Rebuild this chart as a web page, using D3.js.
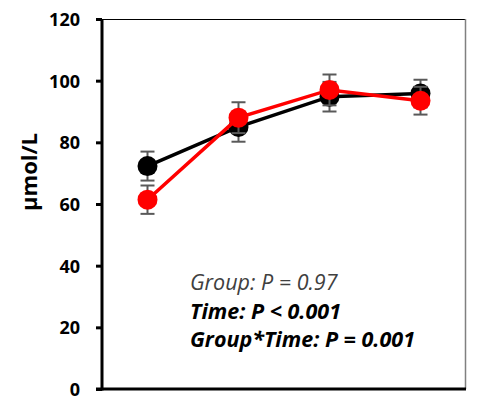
<!DOCTYPE html>
<html>
<head>
<meta charset="utf-8">
<script src="https://cdn.jsdelivr.net/npm/d3@7"></script>
<style>
  body { margin: 0; background: #fff; }
  svg { display: block; }
</style>
</head>
<body>
<div id="chart"></div>
<script>
const WIDTH = 480;
const HEIGHT = 397;

// data
const timePoints = ['T1', 'T2', 'T3', 'T4'];
const blackMean = [72.3, 85, 94.8, 95.8];
const blackErr = [4.7, 4.8, 4.8, 4.5];
const redMean = [61.4, 88, 97, 93.5];
const redErr = [4.6, 5, 5, 4.5];
const yTicks = [0, 20, 40, 60, 80, 100, 120];
const statLines = [
    { text: 'Group: P = 0.97', bold: false },
    { text: 'Time: P < 0.001', bold: true },
    { text: 'Group*Time: P = 0.001', bold: true }
];

const MARGIN = { TOP: 19, LEFT: 102, RIGHT: 14 };
const widthPlot = WIDTH - MARGIN.LEFT - MARGIN.RIGHT;

const SVG = d3.select('#chart')
    .append('svg')
    .attr('width', WIDTH)
    .attr('height', HEIGHT);

const container = SVG.append('g')
    .attr('transform', `translate(${MARGIN.LEFT}, ${MARGIN.TOP})`);

const x = d3.scaleBand()
    .domain(timePoints)
    .range([0, widthPlot]);

const y = d3.scaleLinear()
    .domain([0, 120])
    .range([370, 0]);

// frame: thin top and right borders
container.append('line')
    .attr('x1', 0).attr('x2', widthPlot)
    .attr('y1', 0.5).attr('y2', 0.5)
    .attr('stroke', '#000').attr('stroke-width', 1);
container.append('line')
    .attr('x1', widthPlot - 0.5).attr('x2', widthPlot - 0.5)
    .attr('y1', 0).attr('y2', y(0))
    .attr('stroke', '#808080').attr('stroke-width', 1.5);

// y axis
const yAxis = container.append('g')
    .call(d3.axisLeft(y).tickValues(yTicks).tickSize(6).tickPadding(16));
yAxis.select('.domain').attr('stroke', '#000').attr('stroke-width', 3)
    .attr('d', `M0,${y(0) + 1.5}V${y(120)}`);
yAxis.selectAll('.tick line').attr('stroke', '#000').attr('stroke-width', 3);
yAxis.selectAll('.tick text')
    .attr('font-family', '"Open Sans", sans-serif')
    .attr('font-weight', 'bold')
    .attr('font-size', 18)
    .attr('fill', '#000')
    .attr('dy', '0.36em');

// x axis (bottom line only)
container.append('line')
    .attr('x1', -6).attr('x2', widthPlot)
    .attr('y1', y(0)).attr('y2', y(0))
    .attr('stroke', '#000').attr('stroke-width', 3);

// y label
SVG.append('text')
    .attr('transform', `translate(37, 172) rotate(-90)`)
    .attr('text-anchor', 'middle')
    .attr('font-family', '"Open Sans", sans-serif')
    .attr('font-weight', 'bold')
    .attr('font-size', 22)
    .text('µmol/L');

const cx = (i) => x(timePoints[i]) + x.bandwidth() / 2;

function drawSeries(mean, err, color) {
    const line = d3.line()
        .x((d, i) => cx(i))
        .y((d) => y(d));

    container.append('path')
        .datum(mean)
        .attr('d', line)
        .attr('fill', 'none')
        .attr('stroke', color)
        .attr('stroke-width', 3.5);

    const bars = container.append('g')
        .selectAll('g')
        .data(mean)
        .enter()
        .append('g')
        .attr('stroke', '#595959')
        .attr('stroke-width', 2);
    bars.append('line')
        .attr('x1', (d, i) => cx(i)).attr('x2', (d, i) => cx(i))
        .attr('y1', (d, i) => y(d + err[i])).attr('y2', (d, i) => y(d - err[i]));
    bars.append('line')
        .attr('x1', (d, i) => cx(i) - 7).attr('x2', (d, i) => cx(i) + 7)
        .attr('y1', (d, i) => y(d + err[i])).attr('y2', (d, i) => y(d + err[i]));
    bars.append('line')
        .attr('x1', (d, i) => cx(i) - 7).attr('x2', (d, i) => cx(i) + 7)
        .attr('y1', (d, i) => y(d - err[i])).attr('y2', (d, i) => y(d - err[i]));

    container.append('g')
        .selectAll('circle')
        .data(mean)
        .enter()
        .append('circle')
        .attr('cx', (d, i) => cx(i))
        .attr('cy', (d) => y(d))
        .attr('r', 10)
        .attr('fill', color);
}

drawSeries(blackMean, blackErr, '#000');
drawSeries(redMean, redErr, '#ff0000');

// statistics text
SVG.append('g')
    .selectAll('text')
    .data(statLines)
    .enter()
    .append('text')
    .attr('x', 190)
    .attr('y', (d, i) => 290 + i * 28.5)
    .attr('font-family', '"Open Sans", sans-serif')
    .attr('font-style', 'italic')
    .attr('font-weight', (d) => d.bold ? 'bold' : 'normal')
    .attr('font-size', 21.5)
    .attr('fill', (d) => d.bold ? '#000' : '#404040')
    .text((d) => d.text);
</script>
</body>
</html>
